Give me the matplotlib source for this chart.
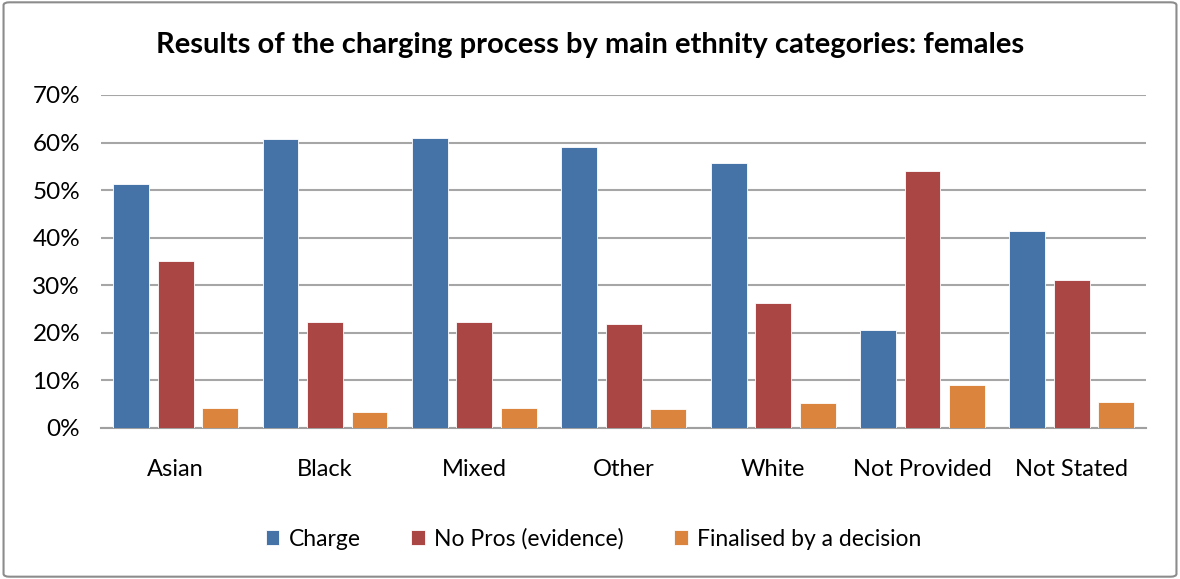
import matplotlib
matplotlib.use("Agg")
import matplotlib.pyplot as plt
import numpy as np
from matplotlib.patches import FancyBboxPatch

categories = ["Asian", "Black", "Mixed", "Other", "White", "Not Provided", "Not Stated"]
charge = [51.2, 60.7, 60.9, 59.0, 55.8, 20.7, 41.5]
no_pros = [35.1, 22.2, 22.2, 21.9, 26.2, 54.0, 31.1]
finalised = [4.1, 3.4, 4.1, 3.9, 5.2, 9.0, 5.5]
series_names = ["Charge", "No Pros (evidence)", "Finalised by a decision"]
colors = ["#4572A7", "#AA4643", "#DB843D"]
yticks = [0, 10, 20, 30, 40, 50, 60, 70]

plt.rcParams['font.family'] = ['Lato', 'DejaVu Sans']

fig = plt.figure(figsize=(11.8, 5.79), dpi=100)
ax = fig.add_axes([0.0856, 0.2608, 0.886, 0.5752])

x = np.arange(len(categories))
w = 0.24
off = 0.298
for i, (vals, name, c) in enumerate(zip([charge, no_pros, finalised], series_names, colors)):
    ax.bar(x + (i - 1) * off, vals, width=w, color=c, edgecolor="white", linewidth=0.6,
           label=name, zorder=3)

ax.set_xlim(-0.5, len(categories) - 0.5)
ax.set_ylim(0, 70)
ax.set_yticks(yticks)
ax.set_yticklabels([f"{v}%" for v in yticks], fontsize=17.5)
ax.set_xticks(x)
ax.set_xticklabels(categories, fontsize=17)
ax.tick_params(axis='both', length=0, colors="black")
ax.tick_params(axis='y', pad=15)
ax.tick_params(axis='x', pad=22)
ax.yaxis.grid(True, color="#A6A6A6", linewidth=1.5, zorder=0)
for s in ["top", "right", "left"]:
    ax.spines[s].set_visible(False)
ax.spines["bottom"].set_color("#A0A0A0")
ax.spines["bottom"].set_linewidth(1.5)

fig.text(0.5, 0.922, "Results of the charging process by main ethnity categories: females",
         ha="center", va="center", fontsize=21, fontweight="bold")

leg = fig.legend(loc="center", bbox_to_anchor=(0.503, 0.069), ncol=3, frameon=False,
                 fontsize=16.5, handlelength=0.6, handleheight=0.6, handletextpad=0.4,
                 columnspacing=2.2)

border = FancyBboxPatch((0.003, 0.004), 0.994, 0.992, boxstyle="round,pad=0,rounding_size=0.005",
                        transform=fig.transFigure, fill=False, edgecolor="#8C8C8C", linewidth=1.5)
fig.patches.append(border)

fig.savefig("out.png", dpi=100)
